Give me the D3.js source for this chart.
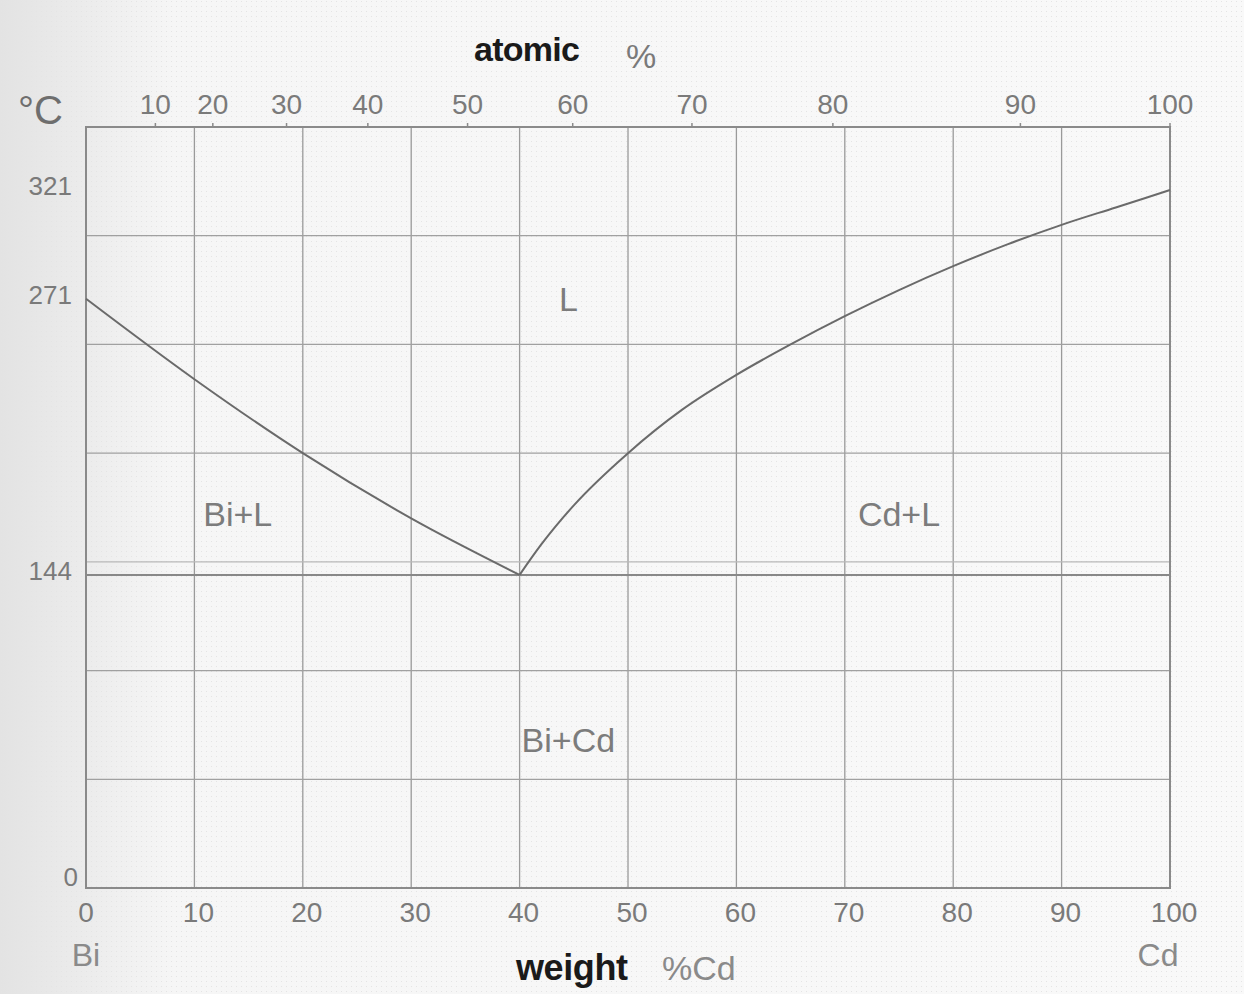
<!DOCTYPE html>
<html>
<head>
<meta charset="utf-8">
<script src="https://cdn.jsdelivr.net/npm/d3@7"></script>
<style>
  html, body { margin: 0; padding: 0; background: #f6f6f6; }
  svg { display: block; }
  text { font-family: "Liberation Sans", Arial, sans-serif; }
</style>
</head>
<body>
<svg id="chart" width="1244" height="994"></svg>
<script>
// weight % Cd ticks (bottom) and temperature ticks (left)
const weightTicks = [0, 10, 20, 30, 40, 50, 60, 70, 80, 90, 100];
const tempTicks = [0, 144, 271, 321];
const tempGrid = [50, 100, 150, 200, 250, 300];
const eutecticT = 144;

// atomic % labels (top) and where they sit on the weight % scale
const atomicLabels = [10, 20, 30, 40, 50, 60, 70, 80, 90, 100];
const atomicAt = [6.4, 11.7, 18.5, 26.0, 35.2, 44.9, 55.9, 68.9, 86.2, 100];

// liquidus, Bi side
const biWeight = [0, 10, 20, 30, 40];
const biTemp = [271, 234, 200, 170, 144];

// liquidus, Cd side
const cdWeight = [40, 42, 45, 50, 55, 60, 65, 70, 75, 80, 85, 90, 95, 100];
const cdTemp = [144, 158, 176, 200, 220, 236, 250, 263, 275, 286, 296, 305, 313, 321];

// field labels
const fieldNames = ["L", "Bi+L", "Cd+L", "Bi+Cd"];
const fieldWeight = [44.5, 14, 75, 44.5];
const fieldTemp = [271, 172, 172, 68];

const svg = d3.select("#chart");
const W = +svg.attr("width"), H = +svg.attr("height");

const x = d3.scaleLinear().domain([0, 100]).range([86, 1170]);
const y = d3.scaleLinear().domain([0, 350]).range([888, 127]);

// scanned-paper background
const defs = svg.append("defs");
const grad = defs.append("linearGradient").attr("id", "bg");
grad.append("stop").attr("offset", "0%").attr("stop-color", "#e3e3e3");
grad.append("stop").attr("offset", "7%").attr("stop-color", "#ececec");
grad.append("stop").attr("offset", "14%").attr("stop-color", "#f6f6f6");
grad.append("stop").attr("offset", "100%").attr("stop-color", "#f9f9f9");
const pat = defs.append("pattern").attr("id", "dots")
  .attr("width", 5).attr("height", 5).attr("patternUnits", "userSpaceOnUse");
pat.append("rect").attr("x", 1).attr("y", 1).attr("width", 1).attr("height", 1).attr("fill", "#e4e4e4");
svg.append("rect").attr("width", W).attr("height", H).attr("fill", "url(#bg)");
svg.append("rect").attr("width", W).attr("height", H).attr("fill", "url(#dots)");

const grid = svg.append("g").attr("stroke", "#9a9a9a").attr("stroke-width", 1.3);

// vertical grid lines
grid.selectAll("line.v")
  .data(weightTicks.slice(1, -1))
  .join("line")
  .attr("x1", d => x(d)).attr("x2", d => x(d))
  .attr("y1", y(350)).attr("y2", y(0));

// horizontal grid lines
grid.selectAll("line.h")
  .data(tempGrid)
  .join("line")
  .attr("x1", x(0)).attr("x2", x(100))
  .attr("y1", d => y(d)).attr("y2", d => y(d))
  .attr("stroke", d => d === 150 ? "#b8b8b8" : "#a0a0a0");

// eutectic line
svg.append("line")
  .attr("x1", x(0)).attr("x2", x(100))
  .attr("y1", y(eutecticT)).attr("y2", y(eutecticT))
  .attr("stroke", "#888").attr("stroke-width", 2);

// frame
svg.append("rect")
  .attr("x", x(0)).attr("y", y(350))
  .attr("width", x(100) - x(0)).attr("height", y(0) - y(350))
  .attr("fill", "none").attr("stroke", "#8a8a8a").attr("stroke-width", 2);

// liquidus curves
const line = d3.line().x(d => x(d[0])).y(d => y(d[1])).curve(d3.curveMonotoneX);
svg.append("path")
  .attr("d", line(biWeight.map((w, i) => [w, biTemp[i]])))
  .attr("fill", "none").attr("stroke", "#6a6a6a").attr("stroke-width", 2);
svg.append("path")
  .attr("d", line(cdWeight.map((w, i) => [w, cdTemp[i]])))
  .attr("fill", "none").attr("stroke", "#6a6a6a").attr("stroke-width", 2);

// bottom weight % labels
svg.append("g").selectAll("text")
  .data(weightTicks)
  .join("text")
  .attr("x", d => x(d) + (d === 0 ? 0 : 4))
  .attr("y", 922)
  .attr("text-anchor", "middle")
  .attr("font-size", 28)
  .attr("fill", "#7a7a7a")
  .text(d => d);

// top atomic % ticks and labels
svg.append("g").selectAll("line")
  .data(atomicAt)
  .join("line")
  .attr("x1", d => x(d)).attr("x2", d => x(d))
  .attr("y1", y(350)).attr("y2", y(350) - 4)
  .attr("stroke", "#8a8a8a").attr("stroke-width", 1.5);
svg.append("g").selectAll("text")
  .data(atomicLabels)
  .join("text")
  .attr("x", (d, i) => x(atomicAt[i]))
  .attr("y", 114)
  .attr("text-anchor", "middle")
  .attr("font-size", 28)
  .attr("fill", "#7a7a7a")
  .text(d => d);

// left temperature labels
svg.append("g").selectAll("text")
  .data(tempTicks)
  .join("text")
  .attr("x", d => d === 0 ? 78 : 72)
  .attr("y", d => y(d) + (d === 0 ? -2 : 5))
  .attr("text-anchor", "end")
  .attr("font-size", 26)
  .attr("fill", "#7a7a7a")
  .text(d => d);

// unit
svg.append("text").attr("x", 18).attr("y", 124)
  .attr("font-size", 40).attr("fill", "#6e6e6e").text("°C");

// axis titles
svg.append("text").attr("x", 474).attr("y", 61)
  .attr("font-size", 34).attr("font-weight", "bold").attr("fill", "#1a1a1a")
  .attr("textLength", 106).text("atomic");
svg.append("text").attr("x", 626).attr("y", 68)
  .attr("font-size", 34).attr("fill", "#7a7a7a").text("%");
svg.append("text").attr("x", 516).attr("y", 980)
  .attr("font-size", 36).attr("font-weight", "bold").attr("fill", "#1a1a1a")
  .attr("textLength", 112).text("weight");
svg.append("text").attr("x", 662).attr("y", 980)
  .attr("font-size", 34).attr("fill", "#8a8a8a").text("%Cd");

// component names
svg.append("text").attr("x", x(0)).attr("y", 966)
  .attr("text-anchor", "middle").attr("font-size", 32).attr("fill", "#8a8a8a").text("Bi");
svg.append("text").attr("x", x(100) - 12).attr("y", 966)
  .attr("text-anchor", "middle").attr("font-size", 32).attr("fill", "#8a8a8a").text("Cd");

// phase field labels
svg.append("g").selectAll("text")
  .data(fieldNames)
  .join("text")
  .attr("x", (d, i) => x(fieldWeight[i]))
  .attr("y", (d, i) => y(fieldTemp[i]) + 12)
  .attr("text-anchor", "middle")
  .attr("font-size", 34)
  .attr("fill", "#7c7c7c")
  .text(d => d);
</script>
</body>
</html>
